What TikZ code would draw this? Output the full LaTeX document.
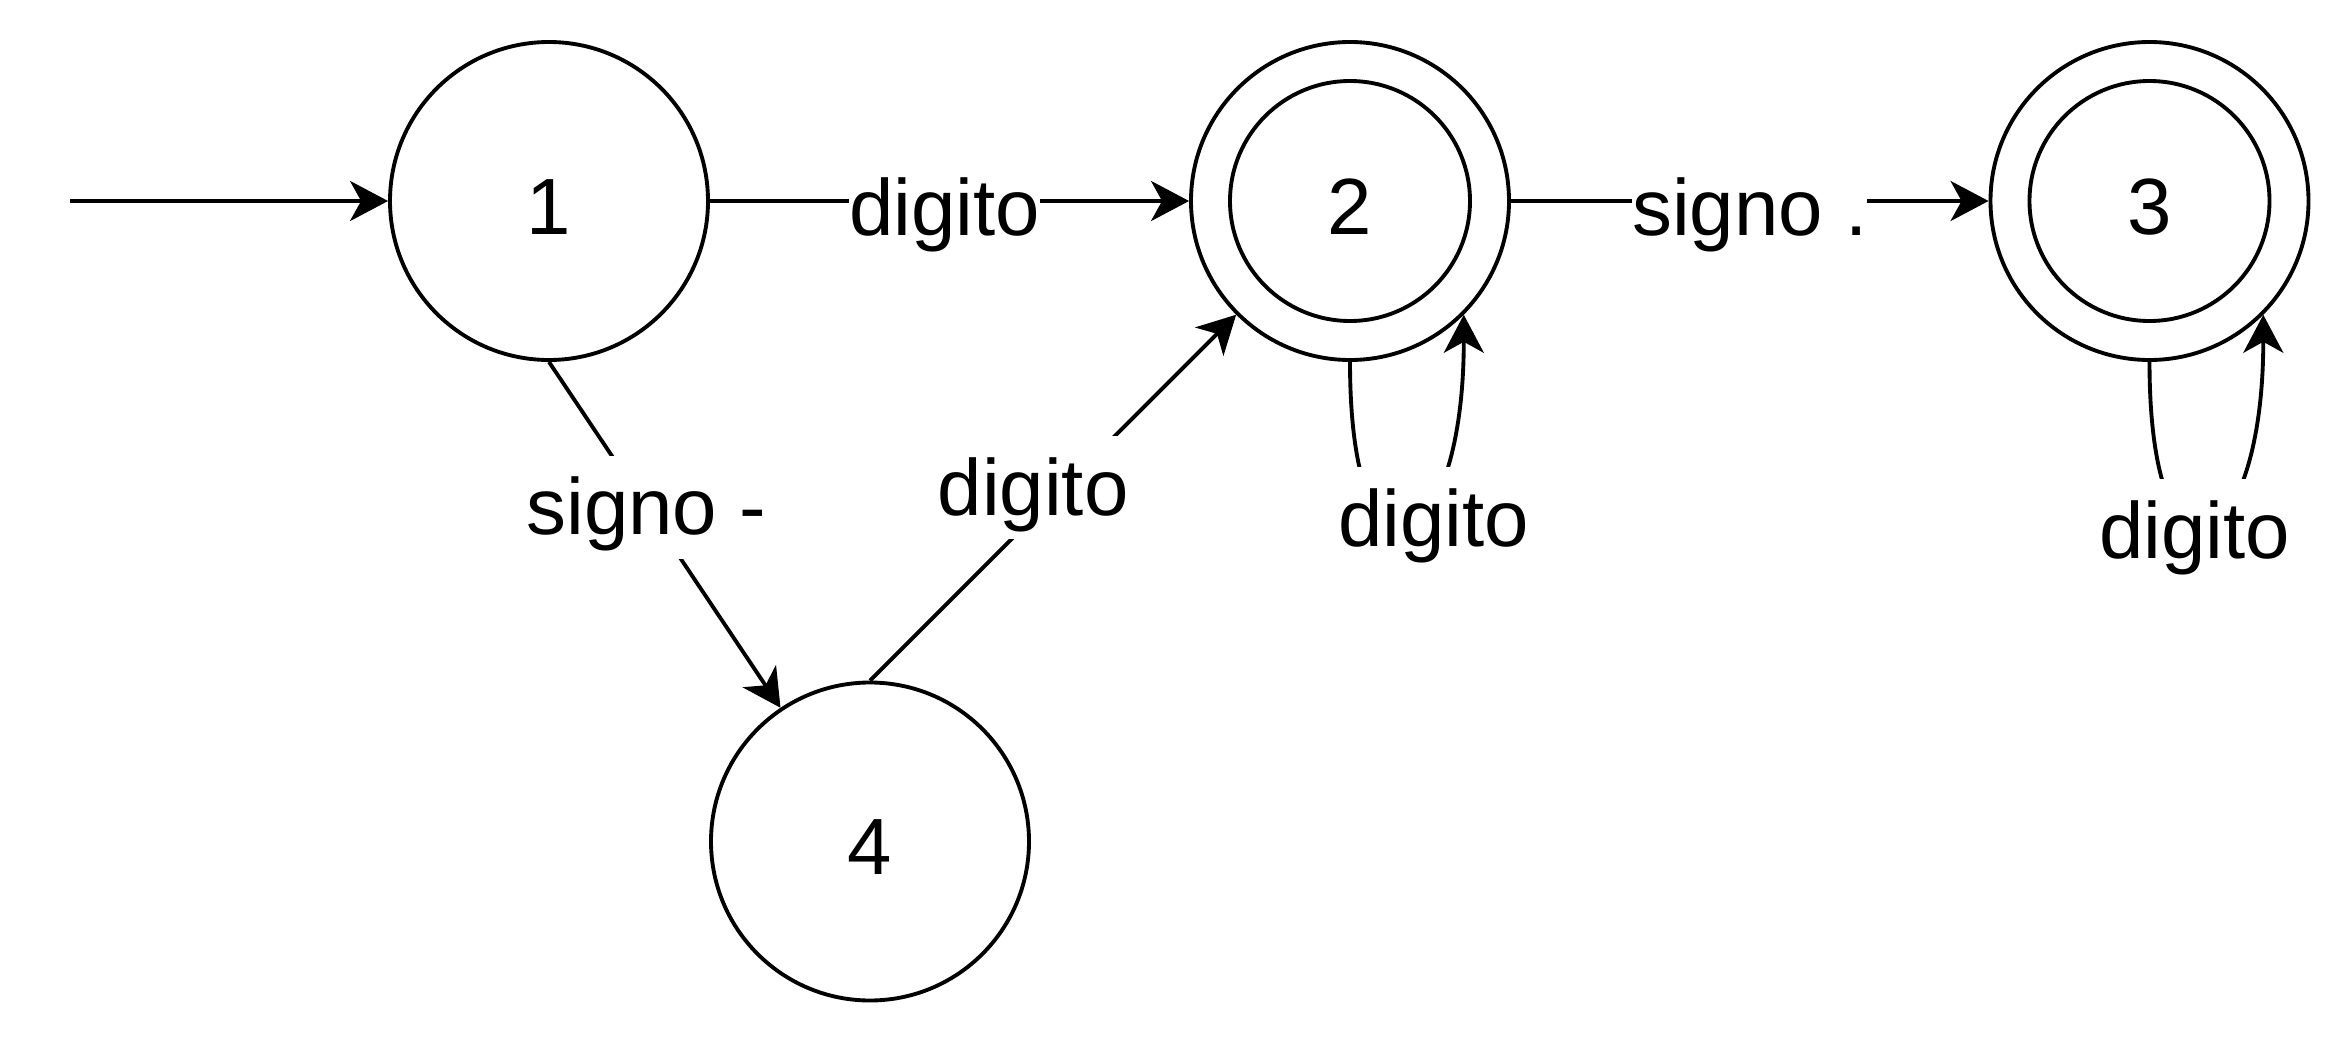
\documentclass[tikz,border=0pt]{standalone}
\usepackage{fontspec}
\setmainfont{Liberation Sans}
\usetikzlibrary{arrows.meta}
\tikzset{
	state/.style={circle, draw, line width=1.1pt, minimum size=3.18cm, inner sep=0pt, text height=0.66cm, text depth=0cm, font=\fontsize{22.7}{27}\selectfont},
	edge/.style={line width=1.1pt, -{Stealth[length=0.38cm, width=0.4cm, inset=0.11cm]}},
	lbl/.style={fill=white, inner xsep=0pt, inner ysep=0pt, text height=0.79cm, text depth=0.24cm, font=\fontsize{22.7}{27}\selectfont}
}

\begin{document}
\begin{tikzpicture}
		%%%%% START %%%%%
		\useasboundingbox (0, 0) rectangle (23.52, 10.44);
		
		\node[state] (s1) at (5.49, 8.43) {1};
		\node[state] (s2) at (13.50, 8.43) {2};
		\node[state] (s3) at (21.495, 8.43) {3};
		\node[state] (s4) at (8.70, 2.025) {4};
		\draw[line width=1.1pt] (s2.center) circle (1.2);
		\draw[line width=1.1pt] (s3.center) circle (1.2);
		
		\coordinate (start) at (0.70, 8.43);
		\draw[edge] (start) -- (s1);
		
		\draw[edge] (s1) -- node[lbl, xshift=-0.05cm, yshift=-0.07cm] {digito} (s2);
		\draw[edge] (s2) -- node[lbl, yshift=-0.07cm] {signo .} (s3);
		\draw[edge] (s1.south) -- node[lbl, pos=0.42] {signo -} (s4);
		\draw[edge] (s4.north) -- node[lbl, pos=0.5, xshift=-0.2cm, yshift=0.1cm] {digito} (s2);
		
		\draw[edge] (s2.south) .. controls +(0, -2.5) and +(0, -2.5) .. (s2.-45)
			node[lbl, pos=0.5, xshift=0.265cm, yshift=0.07cm] {digito};
		\draw[edge] (s3.south) .. controls +(0, -2.5) and +(0, -2.5) .. (s3.-45)
			node[lbl, pos=0.5, xshift=-0.115cm, yshift=-0.05cm] {digito};
		%%%%% END %%%%%
\end{tikzpicture}
\end{document}
